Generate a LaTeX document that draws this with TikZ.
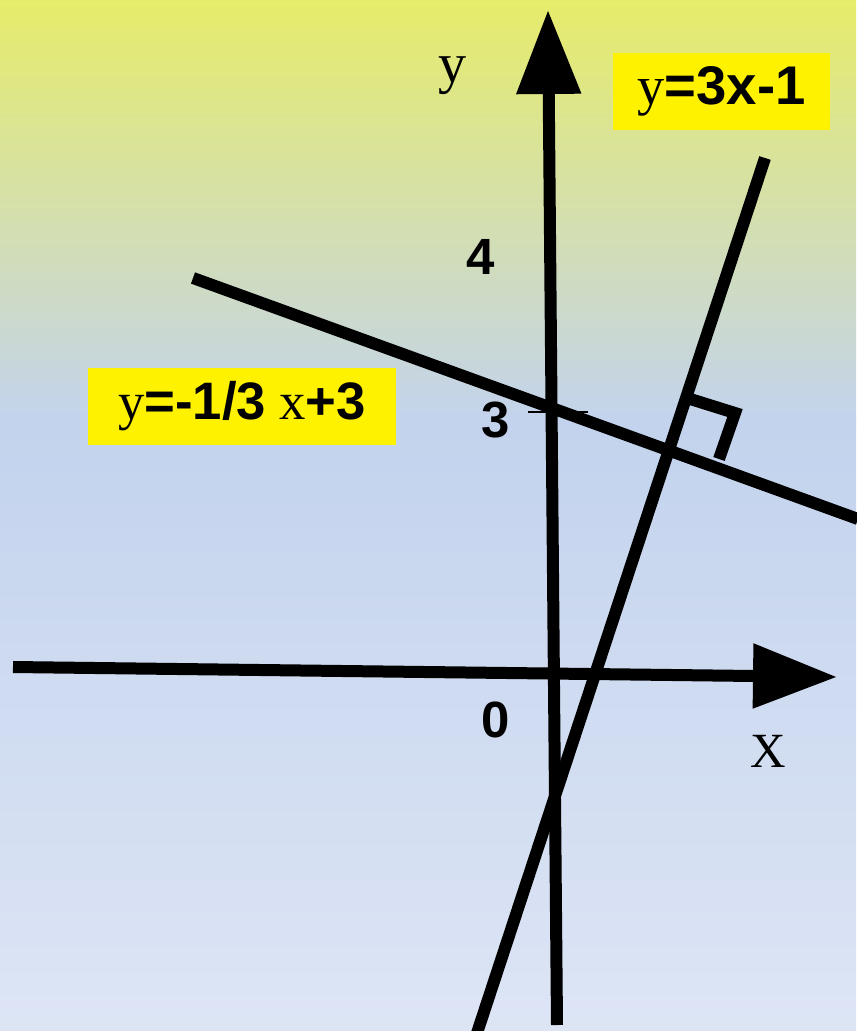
\documentclass[tikz,border=0pt]{standalone}
\usepackage{fontspec}
\setmainfont{Liberation Serif}
\setsansfont{Liberation Sans}
\usetikzlibrary{arrows.meta}
\definecolor{topyellow}{RGB}{230,236,106}
\definecolor{midblue}{RGB}{195,211,237}
\definecolor{lowblue}{RGB}{221,229,245}

\begin{document}
\begin{tikzpicture}[
    x=0.02cm, y=-0.02cm,
    axis/.style={line width=0.24cm, -{Triangle[length=1.68cm, width=1.24cm]}},
    graph/.style={line width=0.24cm},
    val/.style={font=\sffamily\bfseries\fontsize{29}{30}\selectfont, inner sep=0pt},
    var/.style={font=\fontsize{28}{30}\selectfont, inner sep=0pt},
    eqbox/.style={fill=yellow, inner sep=0pt, minimum height=1.54cm},
  ]
  \useasboundingbox (0,0) rectangle (856,1031);
  \shade[top color=topyellow, bottom color=midblue] (0,0) rectangle (856,420);
  \shade[top color=midblue, bottom color=lowblue] (0,420) rectangle (856,1031);

  \coordinate (ybot) at (557,1025);
  \coordinate (ytip) at (548,10);
  \coordinate (xleft) at (13,667);
  \coordinate (xtip) at (837,677);

  % the two lines
  \coordinate (flatstart) at (193,278);
  \coordinate (flatend) at (858,519);
  \coordinate (steepstart) at (477,1033);
  \coordinate (steepend) at (765,158);

  % right angle mark
  \coordinate (markin) at (687,398);
  \coordinate (markcorner) at (735,413);
  \coordinate (markout) at (719,459);

  \coordinate (tickleft) at (528,412);
  \coordinate (tickright) at (588,412);

  \draw[line width=1pt] (tickleft) -- (tickright);
  \draw[axis] (ybot) -- (ytip);
  \draw[axis] (xleft) -- (xtip);
  \draw[graph] (flatstart) -- (flatend);
  \draw[graph] (steepstart) -- (steepend);
  \draw[graph] (markin) -- (markcorner) -- (markout);

  \node[var, font=\fontsize{32}{34}\selectfont] (ylab) at (453,76) {y};
  \node[var] (xlab) at (768,751) {X};
  \node[val] (four) at (481,257) {4};
  \node[val] (three) at (496,420) {3};
  \node[val] (zero) at (496,720) {0};

  \node[eqbox, minimum width=4.34cm, font=\fontsize{31}{33}\selectfont] (eqsteep) at (721.5,91.5)
    {y\textsf{\textbf{=3x-1}}};
  \node[eqbox, minimum width=6.16cm, font=\fontsize{30}{32}\selectfont] (eqflat) at (242,406.5)
    {y\textsf{\textbf{=-1/3}} x\textsf{\textbf{+3}}};
\end{tikzpicture}
\end{document}
